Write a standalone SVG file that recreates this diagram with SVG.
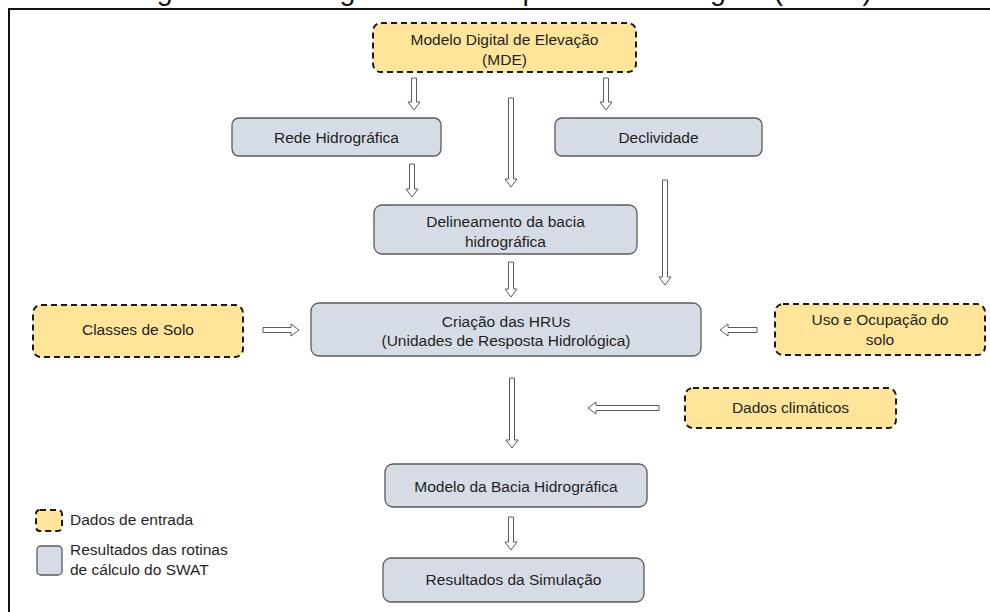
<svg xmlns="http://www.w3.org/2000/svg" width="990" height="612" viewBox="0 0 990 612">
<style>
text{font-family:"Liberation Sans",Arial,sans-serif;font-size:15.5px;fill:#1f1f1f;text-anchor:middle}
.inp{fill:#FFE599;stroke:#1a1a1a;stroke-width:2;stroke-dasharray:6 4}
.res{fill:#D6DCE5;stroke:#5a5a5a;stroke-width:1.3}
.arr{fill:#ffffff;stroke:#5a5a5a;stroke-width:1}
.leg{text-anchor:start}
</style>
<rect width="990" height="612" fill="#ffffff"/>
<text x="133" y="0" style="font-size:28.6px;text-anchor:start;fill:#111">Figura 3 – Fluxograma das etapas de modelagem (SWAT)</text>
<path d="M9 612 V9 H990" fill="none" stroke="#111" stroke-width="2"/>

<g id="connectors">
<path class="arr" d="M411.5 78 H416.5 V102 H420 L414 110 L408 102 H411.5 Z"/>
<path class="arr" d="M603.5 78 H608.5 V102 H612 L606 110 L600 102 H603.5 Z"/>
<path class="arr" d="M508.5 98 H513.5 V179 H517 L511 187 L505 179 H508.5 Z"/>
<path class="arr" d="M409.5 164 H414.5 V189 H418 L412 197 L406 189 H409.5 Z"/>
<path class="arr" d="M662.5 180 H667.5 V277 H671 L665 285 L659 277 H662.5 Z"/>
<path class="arr" d="M508.5 262 H513.5 V289 H517 L511 297 L505 289 H508.5 Z"/>
<path class="arr" d="M263 327.5 V332.5 H291 V336 L299 330 L291 324 V327.5 Z"/>
<path class="arr" d="M757 327.5 V332.5 H728 V336 L720 330 L728 324 V327.5 Z"/>
<path class="arr" d="M659 405.5 V410.5 H596 V414 L588 408 L596 402 V405.5 Z"/>
<path class="arr" d="M509.5 378 H514.5 V440 H518 L512 448 L506 440 H509.5 Z"/>
<path class="arr" d="M508.5 517 H513.5 V542 H517 L511 550 L505 542 H508.5 Z"/>
</g>

<g id="mde">
<rect class="inp" x="373" y="23" width="263" height="49" rx="8"/>
<text x="504.5" y="45">Modelo Digital de Elevação</text>
<text x="504.5" y="65">(MDE)</text>
</g>
<g id="rede">
<rect class="res" x="232" y="118" width="209" height="38" rx="7"/>
<text x="336.5" y="143">Rede Hidrográfica</text>
</g>
<g id="declividade">
<rect class="res" x="555" y="118" width="207" height="38" rx="7"/>
<text x="658.5" y="143">Declividade</text>
</g>
<g id="delineamento">
<rect class="res" x="374" y="205" width="263" height="49" rx="8"/>
<text x="505.5" y="227">Delineamento da bacia</text>
<text x="505.5" y="247">hidrográfica</text>
</g>
<g id="classes">
<rect class="inp" x="33" y="305" width="210" height="52" rx="8"/>
<text x="138" y="335">Classes de Solo</text>
</g>
<g id="hrus">
<rect class="res" x="311" y="303" width="390" height="53" rx="8"/>
<text x="506" y="327">Criação das HRUs</text>
<text x="506" y="346">(Unidades de Resposta Hidrológica)</text>
</g>
<g id="uso">
<rect class="inp" x="775" y="304" width="210" height="51" rx="8"/>
<text x="880" y="325">Uso e Ocupação do</text>
<text x="880" y="345">solo</text>
</g>
<g id="clima">
<rect class="inp" x="685" y="388" width="211" height="40" rx="8"/>
<text x="790.5" y="413">Dados climáticos</text>
</g>
<g id="modelo">
<rect class="res" x="385" y="464" width="262" height="43" rx="8"/>
<text x="516" y="492">Modelo da Bacia Hidrográfica</text>
</g>
<g id="resultados">
<rect class="res" x="383" y="558" width="261" height="44" rx="8"/>
<text x="513.5" y="585">Resultados da Simulação</text>
</g>
<g id="legend">
<rect class="inp" x="36" y="510" width="26" height="21" rx="4"/>
<text class="leg" x="70" y="525">Dados de entrada</text>
<rect class="res" x="37" y="546" width="25" height="29" rx="4"/>
<text class="leg" x="70" y="555">Resultados das rotinas</text>
<text class="leg" x="70" y="575">de cálculo do SWAT</text>
</g>
</svg>
